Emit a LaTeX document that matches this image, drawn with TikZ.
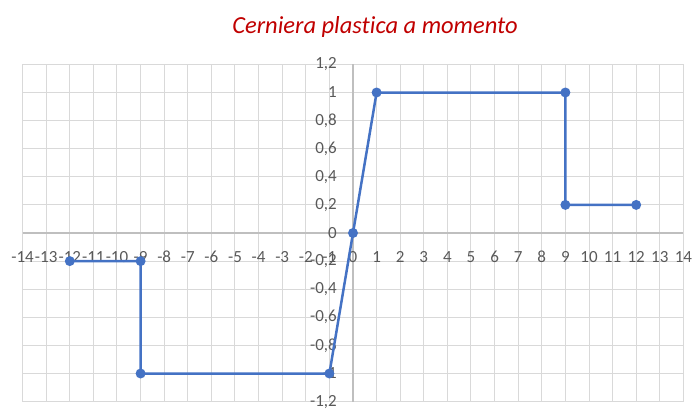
\documentclass[tikz,border=0pt]{standalone}
\usepackage{fontspec}
\setmainfont{Carlito}[Ligatures=NoCommon]
\definecolor{serie}{HTML}{4472C4}
\definecolor{griglia}{HTML}{D9D9D9}
\definecolor{asse}{HTML}{BFBFBF}
\definecolor{testogrigio}{HTML}{595959}
\definecolor{rossotitolo}{HTML}{C00000}
\begin{document}
\begin{tikzpicture}[x=23.6pt,y=140.5pt,
		punto/.style={circle,fill=serie,inner sep=0pt,minimum size=10pt},
		linea/.style={serie,line width=2.5pt,line join=round},
		etich/.style={font=\fontsize{17}{17}\selectfont,text=testogrigio,inner sep=0pt}]
		\useasboundingbox (-353pt,-177pt) rectangle (341pt,233pt);
		
		% titolo
		\node[font=\fontsize{24.5}{24.5}\selectfont\itshape,text=rossotitolo,anchor=base] (titolo) at (22pt,200pt) {Cerniera plastica a momento};
		
		% griglia
		\foreach \x in {-14,...,14}
		\draw[griglia, line width=1pt] (\x,-1.2) -- (\x,1.2);
		\foreach \y in {-1.2,-1,...,1.25}
		\draw[griglia, line width=1pt] (-14,\y) -- (14,\y);
		
		% assi
		\draw[asse, line width=1.2pt] (-14,0) -- (14,0);
		\draw[asse, line width=1.2pt] (0,-1.2) -- (0,1.2);
		
		% etichette asse x
		\foreach \x [count=\i] in {-14,...,14}
		\node[etich] (ex\i) at (\x,-24pt) {\x};
		
		% etichette asse y
		\foreach \v/\t [count=\i] in {1.2/{1,2},1/{1},0.8/{0,8},0.6/{0,6},0.4/{0,4},0.2/{0,2},0/{0},
			-0.2/{-0,2},-0.4/{-0,4},-0.6/{-0,6},-0.8/{-0,8},-1/{-1},-1.2/{-1,2}}
		\node[etich,anchor=east] (ey\i) at ([xshift=-16pt]0,\v) {\t};
		
		% punti della curva
		\coordinate (p1) at (-12,-0.2);
		\coordinate (p2) at (-9,-0.2);
		\coordinate (p3) at (-9,-1);
		\coordinate (p4) at (-1,-1);
		\coordinate (p5) at (0,0);
		\coordinate (p6) at (1,1);
		\coordinate (p7) at (9,1);
		\coordinate (p8) at (9,0.2);
		\coordinate (p9) at (12,0.2);
		
		\draw[linea] (p1) -- (p2) -- (p3) -- (p4) -- (p5) -- (p6) -- (p7) -- (p8) -- (p9);
		
		% marcatori
		\foreach \i in {1,...,9}
		\node[punto] (m\i) at (p\i) {};
		
\end{tikzpicture}
\end{document}
